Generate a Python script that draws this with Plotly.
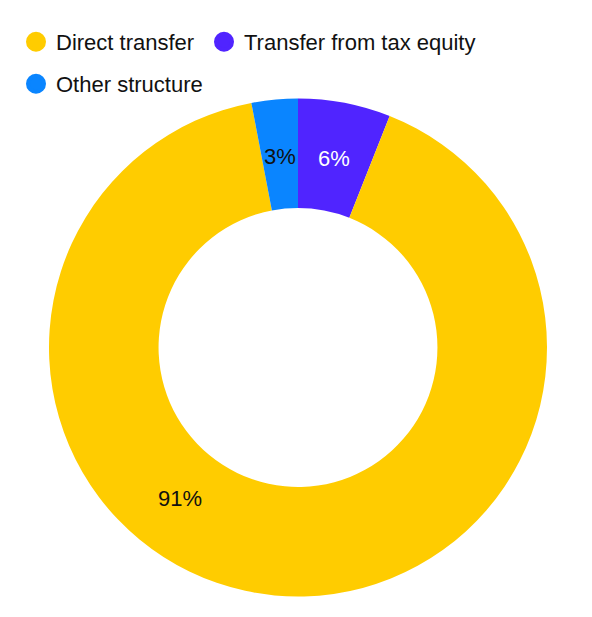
import math
import plotly.graph_objects as go

# ---- data ----
slice_labels = ["Transfer from tax equity", "Direct transfer", "Other structure"]
slice_values = [6, 91, 3]
slice_colors = ["#5024FF", "#FFCC00", "#0A85FF"]
label_text_colors = ["#FFFFFF", "#111111", "#111111"]

legend_order = ["Direct transfer", "Transfer from tax equity", "Other structure"]
legend_colors = ["#FFCC00", "#5024FF", "#0A85FF"]
legend_ids = ["legend", "legend2", "legend3"]
# legend symbol centres (px in the page)
legend_pos = [(36, 42), (224, 42), (36, 84)]

FONT = "Liberation Sans, Arial, sans-serif"
OFF = 8  # page body margin
W, H = 592 - OFF, 617 - OFF
ML, MR, MT, MB = 49 - OFF, 45, 98 - OFF, 20
PW, PH = W - ML - MR, H - MT - MB

fig = go.Figure()
fig.add_trace(go.Pie(
    labels=slice_labels, values=slice_values, sort=False, direction="clockwise",
    rotation=0, hole=0.56, marker=dict(colors=slice_colors, line=dict(width=0)),
    textinfo="none", hoverinfo="label+percent", showlegend=False,
))

for name, col, lg in zip(legend_order, legend_colors, legend_ids):
    fig.add_trace(go.Scatter(
        x=[None], y=[None], mode="markers", name=name, legend=lg,
        marker=dict(symbol="circle", size=16, color=col, line=dict(color=col, width=4)),
    ))

# percentage labels placed around the ring
total = sum(slice_values)
label_radius_px = 192
angle_override = {"Direct transfer": 218.0}
cum = 0
for lab, v, tc in zip(slice_labels, slice_values, label_text_colors):
    mid = (cum + v / 2) / total * 360
    cum += v
    ang = math.radians(angle_override.get(lab, mid))
    x = 0.5 + math.sin(ang) * label_radius_px / PW
    y = 0.5 + math.cos(ang) * label_radius_px / PH
    fig.add_annotation(
        x=x, y=y, xref="paper", yref="paper", text=f"{round(v / total * 100)}%",
        showarrow=False, font=dict(size=22, color=tc, family=FONT),
        xanchor="center", yanchor="middle",
    )

legends = {}
for lg, (cx, cy) in zip(legend_ids, legend_pos):
    legends[lg] = dict(
        orientation="h", x=(cx - 20 - 49) / PW, xanchor="left",
        y=1 + (98 - cy) / PH, yanchor="middle",
        font=dict(size=22, family=FONT, color="#111111"), bgcolor="rgba(0,0,0,0)",
    )

fig.update_layout(
    width=W, height=H,
    margin=dict(l=ML, r=MR, t=MT, b=MB, autoexpand=False),
    paper_bgcolor="white", plot_bgcolor="white",
    font=dict(family=FONT, color="#111111", size=22),
    xaxis=dict(visible=False), yaxis=dict(visible=False),
    **legends,
)

fig.write_html("out.html")
